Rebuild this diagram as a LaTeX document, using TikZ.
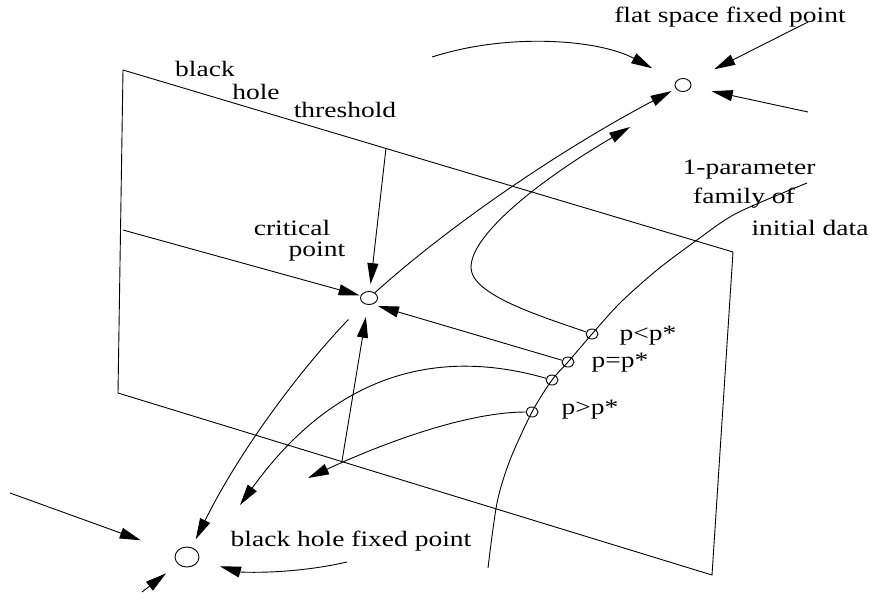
\documentclass[tikz,border=0pt]{standalone}
\usepackage{fontspec}
\setmainfont{Liberation Serif}[FakeStretch=1.25]
\usepackage{tikz}
\usetikzlibrary{arrows.meta, shapes.geometric}

\begin{document}
\begin{tikzpicture}[x=1pt, y=-1pt, line width=0.9pt,
    arr/.style={-{Triangle[length=21pt,width=11pt]}},
    fixpt/.style={draw, ellipse, inner sep=0pt, minimum width=17pt, minimum height=13pt},
    datpt/.style={draw, ellipse, inner sep=0pt, minimum width=12pt, minimum height=10pt},
    lab/.style={inner sep=0pt, font=\fontsize{22}{24}\selectfont}]
  \useasboundingbox (0,0) rectangle (869,597);
  % Plane of the threshold
  \draw (123,70) -- (733,252) -- (712,575) -- (118,393) -- cycle;
  % Fixed points
  \node[fixpt] (crit) at (369,298) {};
  \node[fixpt, minimum width=16pt] (flat) at (683,85) {};
  \node[fixpt, minimum width=24pt, minimum height=20pt] (bh) at (187,557) {};
  % 1-parameter family
  \draw plot[smooth] coordinates {(488,568) (497,503) (510,460) (532,412) (552,380)
    (568,362) (592,334) (620,303) (657,270) (697,240) (737,213) (807,183)};
  \node[datpt] (pl) at (592,334) {};
  \node[datpt] (pe) at (568,362) {};
  \node[datpt] (pq) at (552,380) {};
  \node[datpt] (pg) at (532,412) {};
  % Labels
  \node[lab] (tflat) at (730,17) {flat space fixed point};
  \node[lab] (tblack) at (205,69) {black};
  \node[lab] (thole) at (256,92) {hole};
  \node[lab] (tthr) at (345,110) {threshold};
  \node[lab] (tcrit) at (292,228) {critical};
  \node[lab] (tpoint) at (317,252) {point};
  \node[lab] (tfam1) at (749,170) {1-parameter};
  \node[lab] (tfam2) at (744,198) {family of};
  \node[lab] (tfam3) at (810,228) {initial data};
  \node[lab] (tpl) at (648,336) {p<p*};
  \node[lab] (tpe) at (620,363) {p=p*};
  \node[lab] (tpg) at (590,410) {p>p*};
  \node[lab] (tbh) at (351,541) {black hole fixed point};
  % Free ends
  \coordinate (thl) at (123,230);
  \coordinate (tht) at (386,148);
  \coordinate (base) at (342,461);
  \coordinate (turn) at (471,268);
  \coordinate (hyptip) at (630,127);
  \coordinate (pqtip) at (240,505);
  \coordinate (pgtip) at (308,478);
  \coordinate (flw) at (432,57);
  \coordinate (flne) at (808,22);
  \coordinate (fle) at (808,112);
  \coordinate (bhw) at (10,493);
  \coordinate (bhs) at (142,592);
  \coordinate (bhe) at (347,562);
  % Flow into the critical point
  \draw[arr, shorten >=1pt] (thl) -- (crit);
  \draw[arr, shorten >=7pt] (tht) -- (crit);
  \draw[arr] (pe) -- ([yshift=-8pt]crit.east);
  \draw[arr, shorten >=12pt] (base) -- (crit);
  % Flow out of the critical point
  \draw[arr, shorten >=5pt] (crit) .. controls (450,225) and (560,150) .. (flat);
  \draw[arr, shorten <=22pt, shorten >=9pt] (crit) .. controls (300,370) and (240,450) .. (bh);
  % Subcritical and supercritical data
  \draw[arr] (pl) .. controls (540,316) and (472,295) .. (turn)
    .. controls (470,235) and (540,180) .. (hyptip);
  \draw[arr] (pq) .. controls (430,345) and (330,380) .. (pqtip);
  \draw[arr] (pg) .. controls (470,412) and (390,440) .. (pgtip);
  % Flow near the flat space fixed point
  \draw[arr, shorten >=27pt] (flw) .. controls (510,32) and (600,40) .. (flat);
  \draw[arr, shorten >=27pt] (flne) -- (flat);
  \draw[arr, shorten >=21pt] (fle) -- (flat);
  % Flow near the black hole fixed point
  \draw[arr, shorten >=37pt] (bhw) -- (bh);
  \draw[arr, shorten >=15pt] (bhs) -- (bh);
  \draw[arr, shorten >=22pt] (bhe) .. controls (290,575) and (240,572) .. (bh);
\end{tikzpicture}
\end{document}
